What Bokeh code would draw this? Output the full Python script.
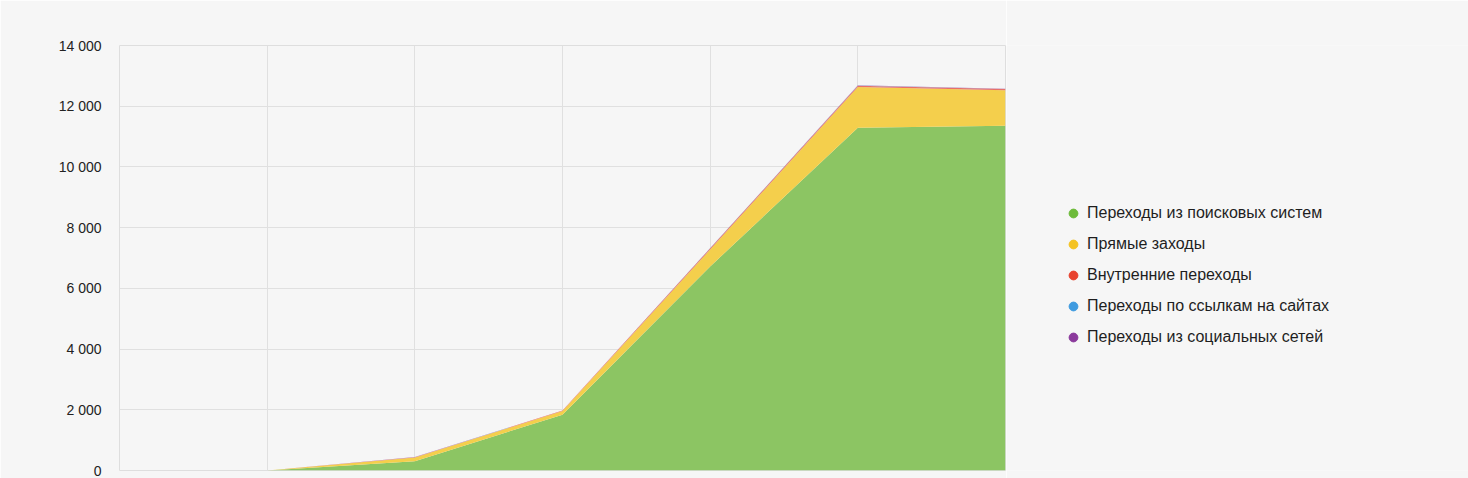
from bokeh.plotting import figure
from bokeh.layouts import row
from bokeh.models import (ColumnDataSource, Legend, LegendItem, Range1d,
                          FixedTicker, CustomJSTickFormatter)
from bokeh.embed import file_html
from bokeh.resources import INLINE

# ---- data ----
x_idx = [1, 2, 3, 4, 5, 6]
search = [0, 305, 1840, 6720, 11290, 11360]
direct = [0, 125, 120, 560, 1340, 1170]
internal = [0, 8, 14, 40, 45, 35]
links = [0, 2, 3, 6, 8, 5]
social = [0, 1, 2, 3, 4, 3]

series_names = [
    "Переходы из поисковых систем",
    "Прямые заходы",
    "Внутренние переходы",
    "Переходы по ссылкам на сайтах",
    "Переходы из социальных сетей",
]
area_colors = ["#8cc563", "#f4cf4c", "#e8716a", "#6fb0e6", "#a065b0"]
dot_colors = ["#6dbb3a", "#f4c322", "#e8432f", "#3f9be0", "#8b3a9c"]
y_ticks = [0, 2000, 4000, 6000, 8000, 10000, 12000, 14000]
x_grid = [0, 1, 2, 3, 4, 5, 6]

BG = "#f6f6f6"
FONT = "Liberation Sans"

src = ColumnDataSource(dict(x=x_idx, s0=search, s1=direct, s2=internal,
                            s3=links, s4=social))

p = figure(width=1006, height=478, output_backend="svg", toolbar_location=None,
           x_range=Range1d(0, 6), y_range=Range1d(0, 14000),
           min_border_left=119, min_border_right=1, min_border_top=45,
           min_border_bottom=8)
p.background_fill_color = BG
p.border_fill_color = BG
p.outline_line_color = "#dedede"
p.outline_line_width = 1

p.varea_stack(["s0", "s1", "s2", "s3", "s4"], x="x", source=src,
              color=area_colors)

p.xaxis.visible = False
p.xgrid.ticker = FixedTicker(ticks=x_grid)
p.xgrid.grid_line_color = "#e0e0e0"
p.ygrid.grid_line_color = "#e0e0e0"
p.yaxis.ticker = FixedTicker(ticks=y_ticks)
p.ygrid.ticker = FixedTicker(ticks=y_ticks)
p.yaxis.axis_line_color = None
p.yaxis.major_tick_line_color = None
p.yaxis.minor_tick_line_color = None
p.yaxis.major_label_text_font = FONT
p.yaxis.major_label_text_font_size = "14px"
p.yaxis.major_label_text_color = "#222222"
p.yaxis.major_label_standoff = 12
p.yaxis.formatter = CustomJSTickFormatter(code="""
    return String(Math.round(tick)).replace(/\\B(?=(\\d{3})+(?!\\d))/g, " ");
""")

# legend figure
lg = figure(width=462, height=478, output_backend="svg", toolbar_location=None,
            min_border=0, x_range=Range1d(0, 1), y_range=Range1d(0, 1))
lg.axis.visible = False
lg.grid.visible = False
lg.outline_line_color = None
lg.background_fill_color = BG
lg.border_fill_color = BG

nan = float("nan")
items = []
for name, c in zip(series_names, dot_colors):
    r = lg.scatter(x=[nan], y=[nan], size=9, color=c, marker="circle")
    items.append(LegendItem(label=name, renderers=[r]))

legend = Legend(items=items, location=(56, 122), padding=0, margin=0,
                glyph_width=22, glyph_height=22, label_height=22,
                spacing=9, label_standoff=3,
                label_text_font=FONT, label_text_font_size="16px",
                label_text_color="#1e1e1e",
                border_line_color=None, background_fill_alpha=0)
lg.add_layout(legend)

layout = row(p, lg, spacing=0)
html = file_html(layout, INLINE)
html = html.replace("<body>", '<body style="background:%s">' % BG, 1)
open("out.html", "w").write(html)
